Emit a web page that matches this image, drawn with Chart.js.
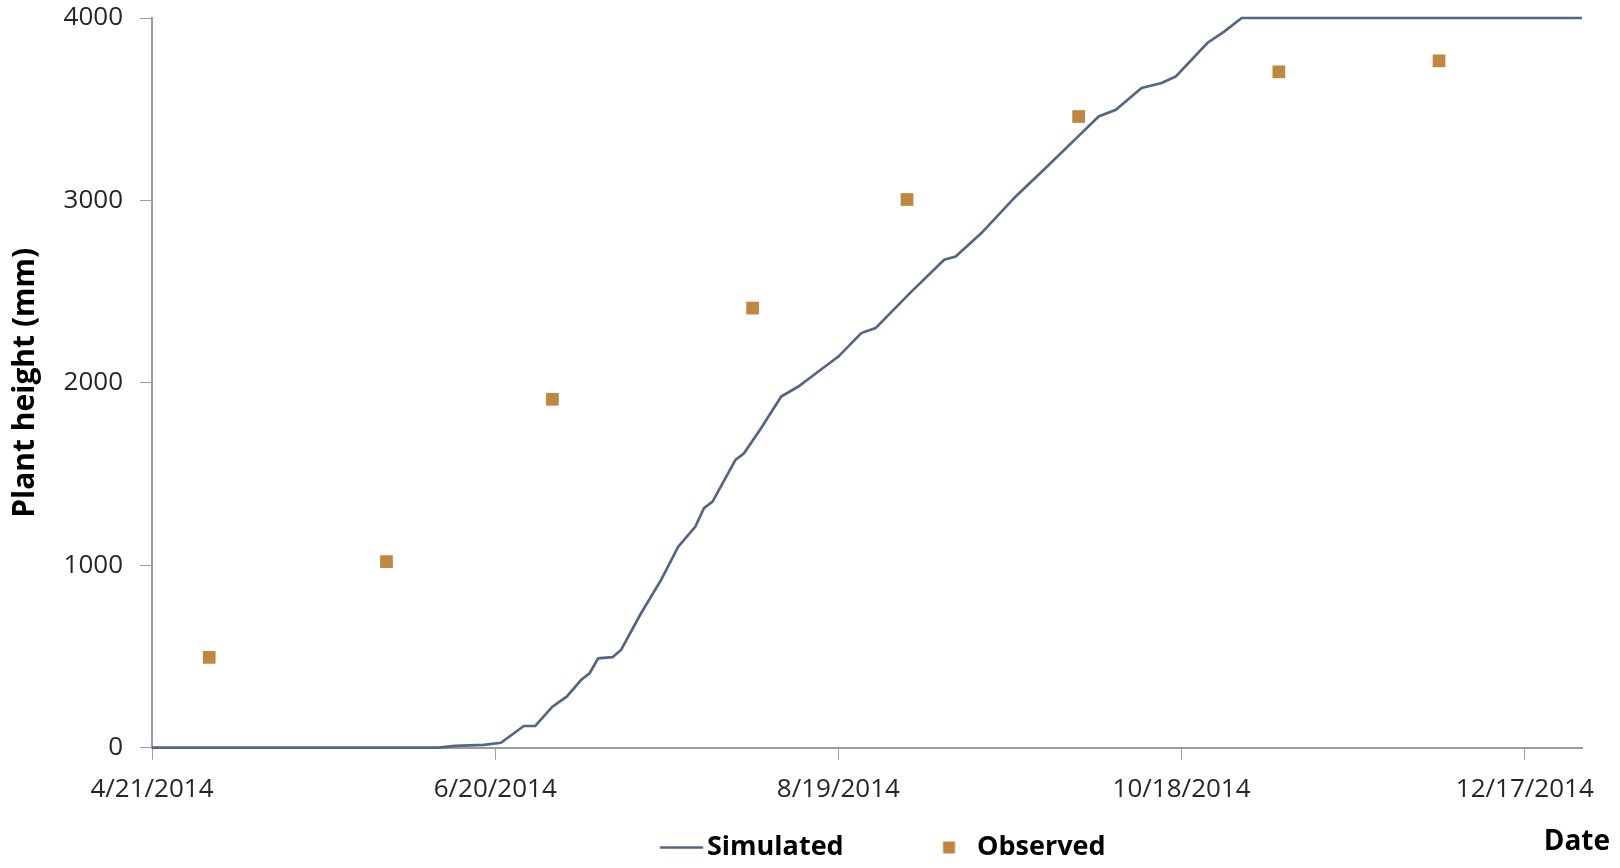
<!DOCTYPE html>
<html>
<head>
<meta charset="utf-8">
<title>Plant height</title>
<script src="https://cdn.jsdelivr.net/npm/chart.js@4.4.1/dist/chart.umd.min.js"></script>
<style>
  html, body { margin: 0; padding: 0; background: #fff; }
  #chart { display: block; }
</style>
</head>
<body>
<canvas id="chart" width="1620" height="868"></canvas>
<script>
// x values are days counted from 4/21/2014
const tickDays = [0, 60, 120, 180, 240];
const tickLabels = ['4/21/2014', '6/20/2014', '8/19/2014', '10/18/2014', '12/17/2014'];

const simDays = [0, 50, 53, 58, 61, 65, 67, 70, 72.5, 75, 76.5, 78, 80.5, 82, 85.5, 89, 92, 95, 96.5, 98,
  102, 103.5, 106.5, 110, 113, 116.5, 120, 124, 126.5, 132.5, 138.5, 140.5, 145, 151, 156.5, 162.5,
  165.5, 168.5, 173, 176.5, 179, 184.5, 187.5, 190.5, 250];
const simHeight = [0, 0, 10, 15, 27, 119, 119, 225, 280, 371, 408, 490, 496, 536, 737, 920, 1102, 1212, 1313, 1349,
  1578, 1614, 1752, 1925, 1980, 2062, 2144, 2273, 2300, 2492, 2675, 2693, 2821, 3022, 3186, 3369,
  3460, 3497, 3616, 3644, 3680, 3863, 3927, 4000, 4000];

const obsDays = [10, 41, 70, 105, 132, 162, 197, 225];
const obsHeight = [495, 1020, 1910, 2410, 3005, 3460, 3705, 3765];

const FONT = "'Open Sans', sans-serif";
const lineColor = '#526685';
const obsColor = '#C0873F';
const axisColor = '#9C9C9C';

// target geometry (px)
const plotLeft = 152, plotRight = 1582, plotBottom = 747.7;
const simTextX = 707, obsTextX = 977;
const legendSize = 27;
const padBottom = -3;

// size the legend so the two entries land where the reference has them
const measure = document.createElement('canvas').getContext('2d');
measure.font = `bold ${legendSize}px ${FONT}`;
const wSim = measure.measureText('Simulated').width;
const wObs = measure.measureText('Observed').width;
const half = legendSize / 2;
const legendPad = plotLeft + plotRight - 2 * simTextX - wSim - wObs;
const legendBox = obsTextX - simTextX - half - wSim - legendPad;
const legendHeight = legendSize + legendPad + 10;

function legendMark(cx, a, b, h, color) {
  const w = Math.ceil(2 * Math.max(b - cx, cx - a)) + 2;
  const c = document.createElement('canvas');
  c.width = w;
  c.height = Math.ceil(h) + 2;
  const g = c.getContext('2d');
  g.fillStyle = color;
  g.fillRect(a - (cx - w / 2), (c.height - h) / 2, b - a, h);
  return c;
}
const simMark = legendMark(simTextX - legendBox / 2 - half, 660, 703, 2.5, lineColor);
const obsMark = legendMark(obsTextX - legendBox / 2 - half, 943, 955, 12, obsColor);

// x tick labels sit lower than the x scale box, so don't clip them to it
const labelRoom = {
  id: 'labelRoom',
  beforeDraw(chart) {
    chart.scales.x.bottom = chart.height;
  }
};

const dateLabel = {
  id: 'dateLabel',
  afterDraw(chart) {
    const ctx = chart.ctx;
    ctx.save();
    ctx.font = `bold 28px ${FONT}`;
    ctx.fillStyle = '#000';
    ctx.textAlign = 'right';
    ctx.textBaseline = 'middle';
    ctx.fillText('Date', chart.chartArea.right + 28, 842);
    ctx.restore();
  }
};

const ctx = document.getElementById('chart').getContext('2d');
new Chart(ctx, {
  type: 'scatter',
  data: {
    datasets: [{
      label: 'Simulated',
      data: simDays.map((d, i) => ({ x: d, y: simHeight[i] })),
      showLine: true,
      borderColor: lineColor,
      backgroundColor: lineColor,
      borderWidth: 2.7,
      pointRadius: 0,
      tension: 0,
      clip: false,
    }, {
      label: 'Observed',
      data: obsDays.map((d, i) => ({ x: d, y: obsHeight[i] })),
      showLine: false,
      pointStyle: 'rect',
      pointRadius: 9,
      backgroundColor: obsColor,
      borderColor: obsColor,
      borderWidth: 0,
      clip: false,
    }]
  },
  options: {
    responsive: false,
    animation: false,
    devicePixelRatio: 1,
    layout: { padding: { left: 0, right: 1620 - plotRight, top: 18, bottom: padBottom } },
    scales: {
      x: {
        type: 'linear',
        min: 0,
        max: 250,
        afterBuildTicks: (s) => { s.ticks = tickDays.map(v => ({ value: v })); },
        afterFit: (s) => {
          s.height = 868 - padBottom - plotBottom - legendHeight;
          s.paddingLeft = 0;
          s.paddingRight = 0;
        },
        ticks: {
          autoSkip: false,
          maxRotation: 0,
          padding: 14,
          color: '#262626',
          font: { family: FONT, size: 26 },
          callback: (v) => tickLabels[tickDays.indexOf(v)],
        },
        grid: { drawOnChartArea: false, drawTicks: true, tickLength: 12, color: axisColor, lineWidth: 1 },
        border: { color: axisColor, width: 2 },
      },
      y: {
        min: 0,
        max: 4000,
        afterFit: (s) => {
          s.width = plotLeft;
          s.paddingTop = 0;
          s.paddingBottom = 0;
        },
        ticks: {
          stepSize: 1000,
          padding: 17,
          color: '#262626',
          font: { family: FONT, size: 26 },
          callback: (v) => String(v),
        },
        grid: { drawOnChartArea: false, drawTicks: true, tickLength: 12, color: axisColor, lineWidth: 1 },
        border: { color: axisColor, width: 2 },
        title: {
          display: true,
          text: 'Plant height (mm)',
          color: '#000',
          font: { family: FONT, size: 30, weight: 'bold' },
          padding: { top: 7, bottom: 0 },
        },
      }
    },
    plugins: {
      tooltip: { enabled: false },
      legend: {
        position: 'bottom',
        fullSize: false,
        labels: {
          usePointStyle: true,
          pointStyleWidth: legendBox,
          padding: legendPad,
          color: '#000',
          font: { family: FONT, size: legendSize, weight: 'bold' },
          generateLabels: (chart) => {
            const items = Chart.defaults.plugins.legend.labels.generateLabels(chart);
            items[0].pointStyle = simMark;
            items[1].pointStyle = obsMark;
            return items;
          },
        },
      },
    },
  },
  plugins: [labelRoom, dateLabel],
});
</script>
</body>
</html>
